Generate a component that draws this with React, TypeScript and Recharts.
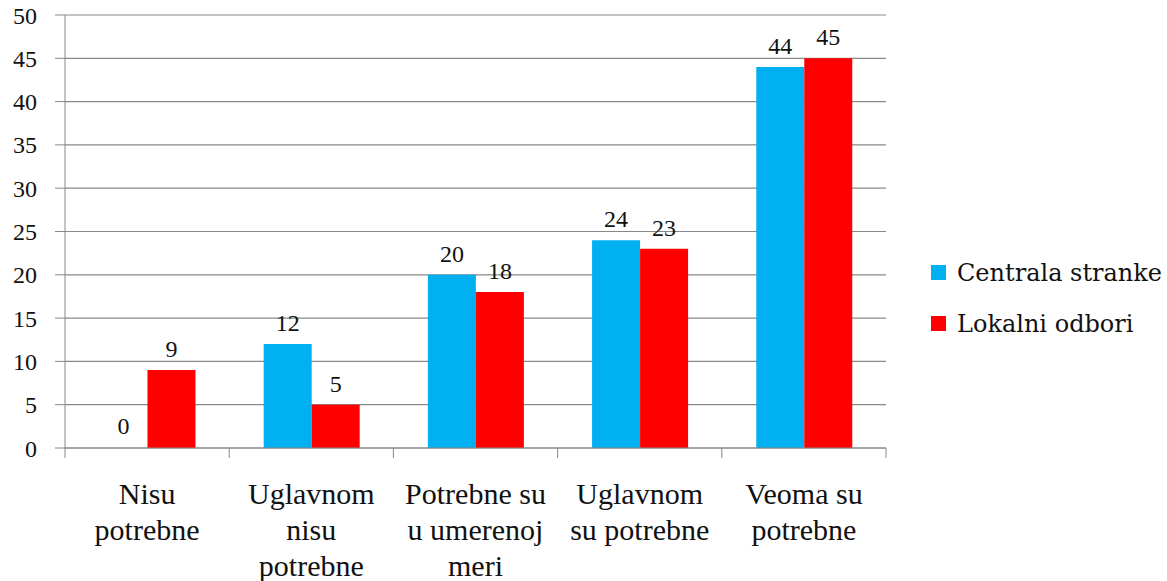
import { Bar, BarChart, CartesianGrid, Cell, LabelList, Legend, XAxis, YAxis } from 'recharts';

const categories = [
  'Nisu\npotrebne',
  'Uglavnom\nnisu\npotrebne',
  'Potrebne su\nu umerenoj\nmeri',
  'Uglavnom\nsu potrebne',
  'Veoma su\npotrebne',
];
const centrala = [0, 12, 20, 24, 44];
const lokalni = [9, 5, 18, 23, 45];
const yTicks = [0, 5, 10, 15, 20, 25, 30, 35, 40, 45, 50];

const seriesInfo = [
  { key: 'centrala', name: 'Centrala stranke', color: '#00B0F0', values: centrala },
  { key: 'lokalni', name: 'Lokalni odbori', color: '#FF0000', values: lokalni },
];

const data = categories.map((c, i) => ({ cat: c, centrala: centrala[i], lokalni: lokalni[i] }));

const FONT = 'Liberation Serif';
const FONT2 = 'DejaVu Serif';
const GRAY = '#888888';

function CatTick(props: any) {
  const { x, y, payload, index, visibleTicksCount } = props;
  const half = payload.offset || 0;
  const lines = String(payload.value).split('\n');
  return (
    <g>
      <line x1={x - half} x2={x - half} y1={y} y2={y + 10} stroke={GRAY} />
      {index === visibleTicksCount - 1 && <line x1={x + half} x2={x + half} y1={y} y2={y + 10} stroke={GRAY} />}
      <text x={x} y={y} textAnchor="middle" fontFamily={FONT} fontSize={30} fill="#111">
        {lines.map((l, i) => (
          <tspan key={i} x={x} dy={i === 0 ? 56 : 36}>
            {l}
          </tspan>
        ))}
      </text>
    </g>
  );
}

function LegendBox() {
  return (
    <div style={{ fontFamily: FONT2, fontSize: 24, color: '#111', whiteSpace: 'nowrap' }}>
      {seriesInfo.map((s) => (
        <div key={s.key} style={{ display: 'flex', alignItems: 'center', height: 51 }}>
          <span style={{ width: 15, height: 15, flexShrink: 0, background: s.color, marginRight: 11, display: 'inline-block' }} />
          <span>{s.name}</span>
        </div>
      ))}
    </div>
  );
}

function TopLabel(props: any) {
  const { x, y, width, value } = props;
  return (
    <text x={x + width / 2} y={y - 13} textAnchor="middle" fontFamily={FONT} fontSize={24} fill="#111">
      {value}
    </text>
  );
}

export default function App() {
  return (
    <div>
      <style>{`body{margin:0;background:#fff}`}</style>
      <BarChart
        width={1167}
        height={581}
        data={data}
        margin={{ top: 15, right: 281, left: 0, bottom: 0 }}
        barCategoryGap="21%"
        barGap={0}
      >
        <CartesianGrid vertical={false} stroke={GRAY} strokeWidth={1.2} />
        <XAxis
          dataKey="cat"
          interval={0}
          stroke={GRAY}
          tickLine={false}
          tickSize={0}
          tickMargin={0}
          height={133}
          tick={<CatTick />}
        />
        <YAxis
          domain={[0, 50]}
          ticks={yTicks}
          width={65}
          tickSize={10}
          tickMargin={18}
          stroke={GRAY}
          tick={{ fontFamily: FONT, fontSize: 24, fill: '#111' }}
        />
        <Legend
          layout="horizontal"
          verticalAlign="middle"
          align="right"
          content={<LegendBox />}
          wrapperStyle={{ left: 931, top: 247, width: 0, height: 0, overflow: 'visible' }}
        />
        {seriesInfo.map((s) => (
          <Bar key={s.key} dataKey={s.key} name={s.name} fill={s.color} minPointSize={1} isAnimationActive={false}>
            {s.values.map((v, i) => (
              <Cell key={i} fill={v === 0 ? 'transparent' : s.color} />
            ))}
            <LabelList dataKey={s.key} content={<TopLabel />} />
          </Bar>
        ))}
      </BarChart>
    </div>
  );
}
